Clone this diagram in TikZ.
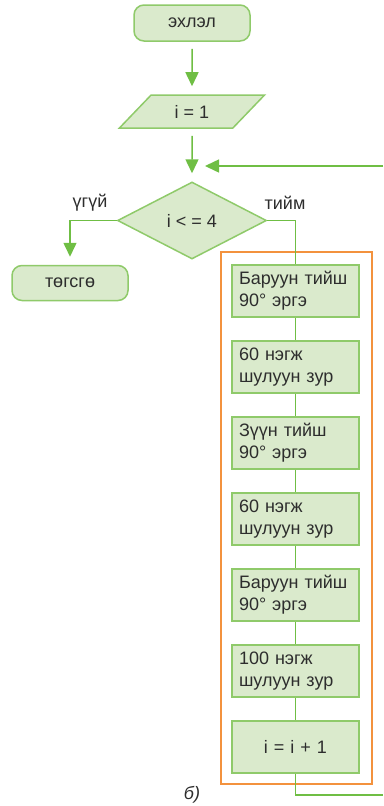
\documentclass[tikz,border=0pt]{standalone}
\usepackage{fontspec}
\setmainfont{Liberation Sans}
\usepackage{xcolor}
\usepackage{tikz}
\usetikzlibrary{shapes, arrows.meta, positioning}
\definecolor{boxfill}{RGB}{218,234,204}
\definecolor{boxdraw}{RGB}{143,202,106}
\definecolor{flow}{RGB}{111,190,68}
\definecolor{loopcol}{RGB}{243,146,62}
\definecolor{ink}{RGB}{45,45,45}
\tikzstyle{terminal} = [rectangle, rounded corners=10pt, minimum width=116pt, minimum height=36pt, text centered, draw=boxdraw, fill=boxfill, line width=1.5pt]
\tikzstyle{io} = [trapezium, trapezium left angle=51, trapezium right angle=129, trapezium stretches=true, minimum width=146pt, minimum height=33pt, text centered, draw=boxdraw, fill=boxfill, line width=1.5pt]
\tikzstyle{decision} = [diamond, aspect=1.94, minimum width=149pt, minimum height=77pt, inner sep=0pt, text centered, draw=boxdraw, fill=boxfill, line width=1.5pt]
\tikzstyle{process} = [rectangle, minimum width=127pt, minimum height=52pt, text width=113pt, inner xsep=7pt, align=left, draw=boxdraw, fill=boxfill, line width=1.5pt]
\tikzstyle{arrow} = [line width=1.5pt, draw=flow, -{Triangle[length=14pt,width=13pt]}, shorten <=7pt, shorten >=8pt]
\tikzstyle{line} = [line width=1.5pt, draw=flow]
\tikzstyle{loopbox} = [line width=1.2pt, draw=loopcol]

\begin{document}
\begin{tikzpicture}[x=1pt, y=1pt, node distance=76pt, text=ink, font=\fontsize{18}{22}\selectfont]
        \useasboundingbox (0,0) rectangle (383,-806);
        \node (start) [terminal] at (192,-23) {эхлэл};
        \node (init) [io] at (192,-111.5) {i = 1};
        \node (cond) [decision] at (192,-220.5) {i < = 4};
        \node (stop) [terminal, minimum height=35pt] at (70,-283) {төгсгө};
        % Loop body
        \node (s1) [process] at (295.5,-291) {Баруун тийш\\90° эргэ};
        \node (s2) [process, below of=s1] {60 нэгж\\шулуун зур};
        \node (s3) [process, below of=s2] {Зүүн тийш\\90° эргэ};
        \node (s4) [process, below of=s3] {60 нэгж\\шулуун зур};
        \node (s5) [process, below of=s4] {Баруун тийш\\90° эргэ};
        \node (s6) [process, below of=s5] {100 нэгж\\шулуун зур};
        \node (s7) [process, below of=s6, align=center] {i = i + 1};
        \draw [loopbox] (221,-252) rectangle (372,-784);
        % Arrows
        \draw [arrow] (start) -- (init);
        \draw [arrow] (init) -- (cond);
        \coordinate (back) at (383,-166);
        \coordinate (backend) at (197,-166);
        \draw [arrow, shorten <=0pt] (back) -- (backend);
        \draw [arrow, shorten <=0pt] (cond.west) -| (stop);
        \draw [line] (cond.east) -| (s1.north);
        \draw [line] (s1) -- (s2);
        \draw [line] (s2) -- (s3);
        \draw [line] (s3) -- (s4);
        \draw [line] (s4) -- (s5);
        \draw [line] (s5) -- (s6);
        \draw [line] (s6) -- (s7);
        \coordinate (out) at (383,-795);
        \draw [line] (s7.south) |- (out);
        % Branch labels
        \node (no) at (90,-203) {үгүй};
        \node (yes) at (285,-203) {тийм};
        \node (caption) at (192,-795) {\itshape б)};
    \end{tikzpicture}
\end{document}
